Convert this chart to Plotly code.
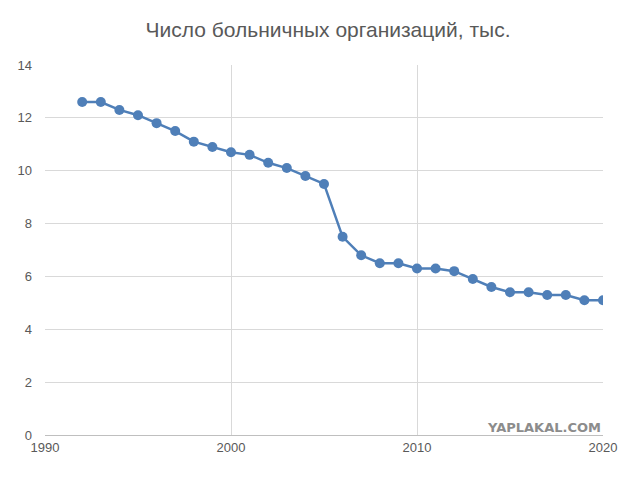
import plotly.graph_objs as go

years = list(range(1992, 2021))
counts = [12.6, 12.6, 12.3, 12.1, 11.8, 11.5, 11.1, 10.9, 10.7, 10.6,
          10.3, 10.1, 9.8, 9.5, 7.5, 6.8, 6.5, 6.5, 6.3, 6.3,
          6.2, 5.9, 5.6, 5.4, 5.4, 5.3, 5.3, 5.1, 5.1]

fig = go.Figure(
    data=[
        go.Scatter(
            x=years,
            y=counts,
            mode="lines+markers",
            line=dict(color="#4f7fb8", width=2.5),
            marker=dict(color="#4f7fb8", size=10),
        )
    ]
)

fig.update_layout(
    title=dict(text="Число больничных организаций, тыс.", x=0.5, y=0.97,
               font=dict(size=21, color="#595959", family="Liberation Sans")),
    width=640,
    height=478,
    plot_bgcolor="white",
    paper_bgcolor="white",
    showlegend=False,
    font=dict(family="Liberation Sans", size=13, color="#595959"),
    xaxis=dict(range=[1990, 2020], dtick=10, showgrid=True, gridcolor="#d9d9d9",
               showline=True, linecolor="#bfbfbf", zeroline=False, ticks=""),
    yaxis=dict(range=[0, 14], dtick=2, showgrid=True, gridcolor="#d9d9d9",
               zeroline=False, ticks="", ticklabelstandoff=12),
    margin=dict(l=37, r=45, t=57, b=51, autoexpand=False),
)

fig.add_annotation(text="<b>YAPLAKAL.COM</b>", xref="paper", yref="paper", x=1.0, y=-0.005,
                   xanchor="right", yanchor="bottom", showarrow=False,
                   font=dict(size=13, color="#8c8c8c", family="DejaVu Sans"))

fig.write_html("out.html")
